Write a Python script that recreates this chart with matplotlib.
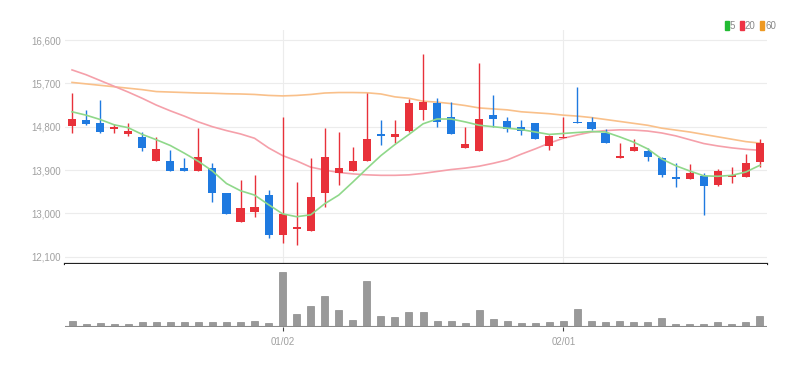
import matplotlib
matplotlib.use('Agg')
import matplotlib.pyplot as plt
import numpy as np

# Daily candles (price in KRW)
opens = [14815, 14939, 14883, 14746, 14648, 14580, 14094, 14094, 13936, 13886,
         13936, 13429, 12827, 13035, 13382, 12551, 12669, 12640, 13429, 13832,
         13886, 14094, 14642, 14590, 14717, 15147, 15299, 14995, 14351, 14302,
         15043, 14919, 14788, 14871, 14399, 14565, 14904, 14891, 14663, 14150,
         14302, 14295, 14144, 13749, 13708, 13782, 13589, 13762, 13762, 14073]
closes = [14954, 14856, 14696, 14800, 14704, 14351, 14331, 13886, 13886, 14177,
          13429, 12987, 13105, 13139, 12551, 12987, 12723, 13346, 14177, 13936,
          14088, 14538, 14607, 14642, 15299, 15319, 14904, 14648, 14441, 14954,
          14954, 14746, 14717, 14538, 14607, 14592, 14871, 14746, 14468, 14198,
          14385, 14165, 13797, 13708, 13845, 13568, 13886, 13791, 14040, 14455]
highs = [15494, 15147, 15355, 14856, 14883, 14696, 14580, 14316, 14144, 14767,
         14040, 13429, 13693, 13797, 13485, 15008, 13658, 14144, 14767, 14696,
         14385, 15494, 14939, 14939, 15369, 16310, 15390, 15319, 14788, 16129,
         15459, 15008, 14939, 14871, 14628, 15008, 15631, 14995, 14746, 14455,
         14538, 14351, 14177, 14052, 14025, 13832, 13915, 13957, 14233, 14538]
lows = [14663, 14835, 14675, 14675, 14607, 14302, 14094, 13886, 13886, 13886,
        13242, 12987, 12827, 12931, 12482, 12378, 12343, 12640, 13139, 13589,
        13886, 14094, 14420, 14455, 14696, 14939, 14788, 14648, 14351, 14302,
        14788, 14696, 14628, 14538, 14316, 14565, 14871, 14732, 14455, 14150,
        14302, 14094, 13762, 13554, 13708, 12966, 13568, 13637, 13762, 13957]
volumes = [60, 33, 43, 33, 27, 47, 47, 47, 47, 50,
           50, 47, 50, 60, 43, 547, 127, 210, 310, 173,
           67, 460, 107, 97, 147, 147, 63, 57, 43, 167,
           77, 60, 43, 43, 47, 60, 177, 60, 47, 63,
           47, 47, 90, 33, 27, 33, 47, 33, 47, 107]

# Moving averages
ma5 = [15110, 15040, 14950, 14840, 14780, 14640, 14530, 14410, 14250, 14080,
       13880, 13620, 13470, 13380, 13180, 12990, 12930, 12970, 13200, 13380,
       13650, 13930, 14200, 14430, 14640, 14860, 14960, 14960, 14900, 14830,
       14800, 14770, 14740, 14690, 14640, 14660, 14680, 14700, 14690, 14590,
       14480, 14340, 14130, 13990, 13880, 13780, 13770, 13790, 13860, 14000]
ma20 = [15980, 15880, 15760, 15640, 15520, 15390, 15250, 15130, 15020, 14900,
        14800, 14720, 14650, 14560, 14360, 14200, 14090, 13960, 13900, 13850,
        13820, 13800, 13790, 13790, 13800, 13830, 13870, 13910, 13940, 13980,
        14040, 14110, 14230, 14340, 14460, 14560, 14630, 14690, 14720, 14735,
        14730, 14710, 14670, 14610, 14530, 14450, 14400, 14360, 14330, 14310]
ma60 = [15720, 15690, 15660, 15630, 15600, 15570, 15530, 15520, 15510, 15500,
        15495, 15485, 15480, 15470, 15450, 15440, 15450, 15470, 15500, 15510,
        15510, 15505, 15480, 15420, 15390, 15330, 15310, 15280, 15240, 15190,
        15170, 15150, 15110, 15090, 15070, 15040, 15020, 14990, 14950, 14910,
        14870, 14830, 14770, 14730, 14690, 14640, 14590, 14540, 14490, 14460]

date_ticks = [15, 35]
date_labels = ['01/02', '02/01']
price_ticks = [12100, 13000, 13900, 14800, 15700, 16600]

up_color = '#e8313a'
down_color = '#1f7ae0'
label_color = '#a0a0a0'

plt.rcParams['font.family'] = ['Liberation Sans Narrow', 'Liberation Sans', 'DejaVu Sans']

fig = plt.figure(figsize=(8.11, 3.67), dpi=100)
ax = fig.add_axes([65 / 811, 1 - 264 / 367, 702 / 811, 234 / 367])
axv = fig.add_axes([65 / 811, 1 - 327 / 367, 702 / 811, 63 / 367])

x = np.arange(len(opens))
o = np.array(opens)
c = np.array(closes)
colors = [up_color if cc >= oo else down_color for oo, cc in zip(o, c)]

# candles
ax.vlines(x, lows, highs, colors=colors, linewidth=1, zorder=3)
body_bottom = np.minimum(o, c)
body_height = np.maximum(np.abs(c - o), 25)
ax.bar(x, body_height, bottom=body_bottom, width=0.58, color=colors, zorder=4)

# moving averages
ax.plot(x, ma60, color='#f9c08a', linewidth=1.2, zorder=2)
ax.plot(x, ma20, color='#f5a0aa', linewidth=1.2, zorder=2)
ax.plot(x, ma5, color='#8fd88a', linewidth=1.2, zorder=5)

ax.set_xlim(-0.5, len(x) - 0.5)
ax.set_ylim(11948, 16809)
ax.set_yticks(price_ticks)
ax.set_yticklabels([f'{p:,}' for p in price_ticks])
ax.set_xticks(date_ticks)
ax.tick_params(axis='x', length=0, labelbottom=False)
ax.tick_params(axis='y', length=0, labelsize=7, labelcolor=label_color, pad=3)
ax.grid(True, color='#ececec', linewidth=0.8)
for s in ['top', 'right', 'left']:
    ax.spines[s].set_visible(False)
ax.spines['bottom'].set_color('#222222')
ax.spines['bottom'].set_linewidth(1.6)

# volume
axv.bar(x, volumes, width=0.5, color='#999999', edgecolor='#8a8a8a', linewidth=0.5)
axv.axhline(0, color='#8a8a8a', linewidth=1.5)
axv.set_xlim(-0.5, len(x) - 0.5)
axv.set_ylim(0, max(volumes) / 0.87)
axv.set_yticks([])
axv.set_xticks(date_ticks)
axv.set_xticklabels(date_labels)
axv.tick_params(axis='x', length=3, color='#444444', labelsize=7, labelcolor=label_color, pad=4)
for s in axv.spines.values():
    s.set_visible(False)

# legend (top right)
legend_items = [('5', '#22bb33'), ('20', '#ee3344'), ('60', '#ee9922')]
lx = 725
for name, col in legend_items:
    fig.patches.append(plt.Rectangle((lx / 811, 1 - 30 / 367), 4 / 811, 9 / 367,
                                     transform=fig.transFigure, color=col))
    fig.text((lx + 5) / 811, 1 - 26 / 367, name, fontsize=7, color='#888888', va='center')
    lx += 8 + 5 * len(name) + 2

fig.savefig('out.png', dpi=100)
